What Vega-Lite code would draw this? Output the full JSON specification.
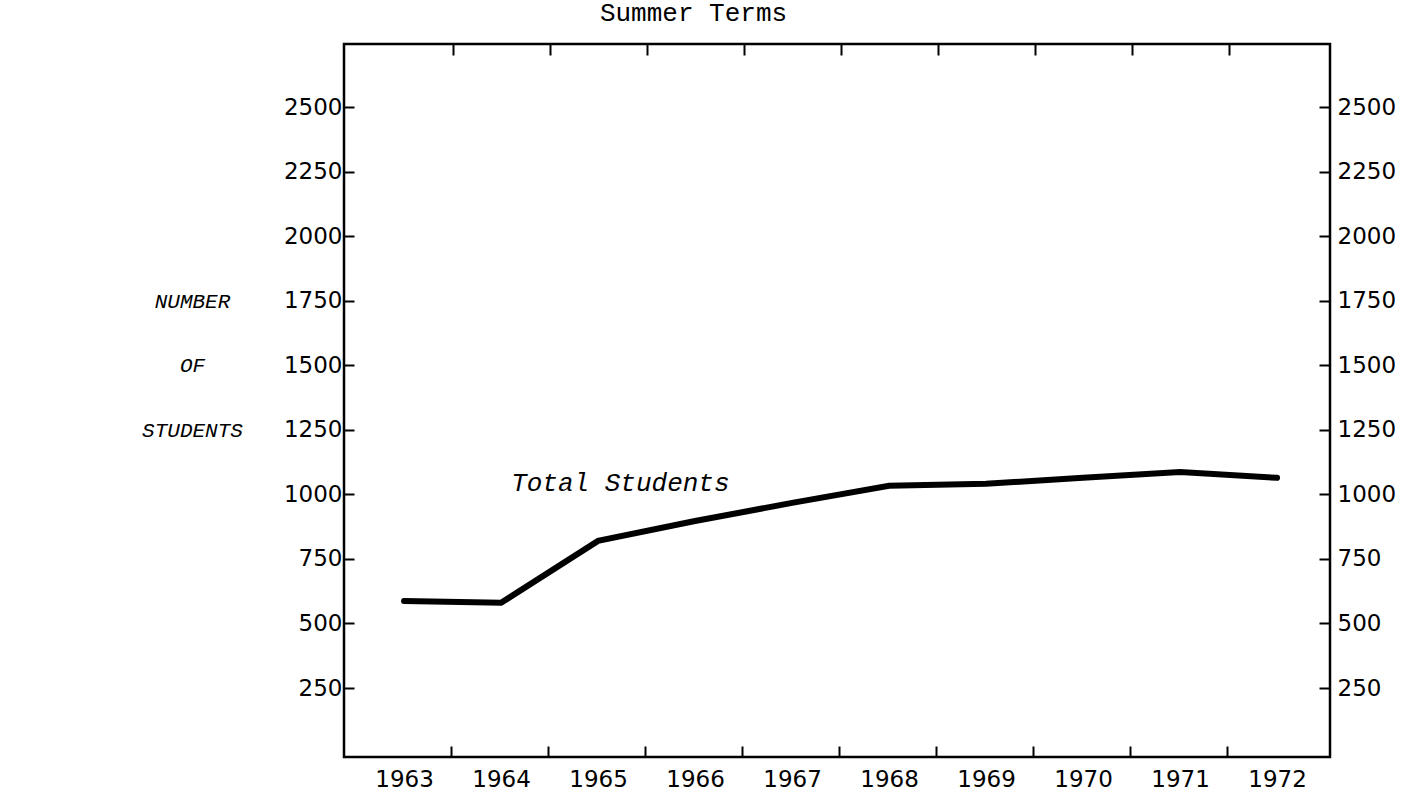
{
  "$schema": "https://vega.github.io/schema/vega-lite/v6.json",
  "autosize": "none",
  "width": 986,
  "height": 713,
  "padding": {"left": 344, "top": 44, "right": 88, "bottom": 36},
  "background": "white",
  "config": {
    "view": {"stroke": "black", "strokeWidth": 2.5},
    "axis": {
      "domain": false,
      "grid": false,
      "tickColor": "black",
      "tickWidth": 2,
      "labelColor": "black",
      "labelFont": "DejaVu Sans",
      "labelFontSize": 23
    }
  },
  "data": {
    "values": [
      {"year": 1963, "students": 587},
      {"year": 1964, "students": 580},
      {"year": 1965, "students": 820},
      {"year": 1966, "students": 897},
      {"year": 1967, "students": 967},
      {"year": 1968, "students": 1033},
      {"year": 1969, "students": 1041},
      {"year": 1970, "students": 1064},
      {"year": 1971, "students": 1087},
      {"year": 1972, "students": 1064}
    ]
  },
  "layer": [
    {
      "layer": [
        {
          "mark": {"type": "line", "color": "black", "strokeWidth": 6, "strokeCap": "round"},
          "encoding": {
            "x": {
              "field": "year", "type": "quantitative",
              "scale": {"domain": [1962.381, 1972.546], "nice": false, "zero": false},
              "axis": {
                "orient": "bottom",
                "title": null,
                "values": [1963, 1964, 1965, 1966, 1967, 1968, 1969, 1970, 1971, 1972],
                "format": "d",
                "tickSize": -11,
                "tickOffset": 47,
                "labelOffset": -47,
                "labelPadding": 22,
                "tickOpacity": {"condition": {"test": "datum.value == 1972", "value": 0}, "value": 1}
              }
            },
            "y": {
              "field": "students", "type": "quantitative",
              "scale": {"domain": [-17, 2744], "nice": false, "zero": false},
              "axis": {
                "orient": "left",
                "values": [250, 500, 750, 1000, 1250, 1500, 1750, 2000, 2250, 2500],
                "format": "d",
                "tickSize": -10,
                "labelPadding": 12,
                "title": ["NUMBER", "OF", "STUDENTS"],
                "titleFont": "Liberation Mono",
                "titleFontStyle": "italic",
                "titleFontWeight": "normal",
                "titleFontSize": 21,
                "titleColor": "black",
                "titleAngle": 0,
                "titleAlign": "center",
                "titleBaseline": "middle",
                "titleLineHeight": 64.6,
                "titleX": -152,
                "titleY": 257
              }
            }
          }
        },
        {
          "data": {"values": [{"year": 1965.23, "students": 1044, "label": "Total Students"}]},
          "mark": {"type": "text", "font": "Liberation Mono", "fontStyle": "italic", "fontSize": 26, "color": "black", "align": "center", "baseline": "middle"},
          "encoding": {
            "x": {"field": "year", "type": "quantitative"},
            "y": {"field": "students", "type": "quantitative"},
            "text": {"field": "label"}
          }
        }
      ]
    },
    {
      "mark": {"type": "line", "opacity": 0},
      "encoding": {
        "x": {
          "field": "year", "type": "quantitative",
          "scale": {"domain": [1962.381, 1972.546], "nice": false, "zero": false},
          "axis": {
            "orient": "top",
            "title": "Summer Terms",
            "titleFont": "Liberation Mono",
            "titleFontSize": 26,
            "titleFontWeight": "normal",
            "titleColor": "black",
            "titleAlign": "center",
            "titleBaseline": "alphabetic",
            "titleX": 349,
            "titleY": -24,
            "values": [1963.5, 1964.5, 1965.5, 1966.5, 1967.5, 1968.5, 1969.5, 1970.5, 1971.5],
            "labels": false,
            "tickSize": -11
          }
        },
        "y": {
          "field": "students", "type": "quantitative",
          "scale": {"domain": [-17, 2744], "nice": false, "zero": false},
          "axis": {
            "orient": "right",
            "title": null,
            "values": [250, 500, 750, 1000, 1250, 1500, 1750, 2000, 2250, 2500],
            "format": "d",
            "tickSize": -11,
            "labelPadding": 18
          }
        }
      }
    }
  ],
  "resolve": {"scale": {"x": "independent", "y": "independent"}}
}
